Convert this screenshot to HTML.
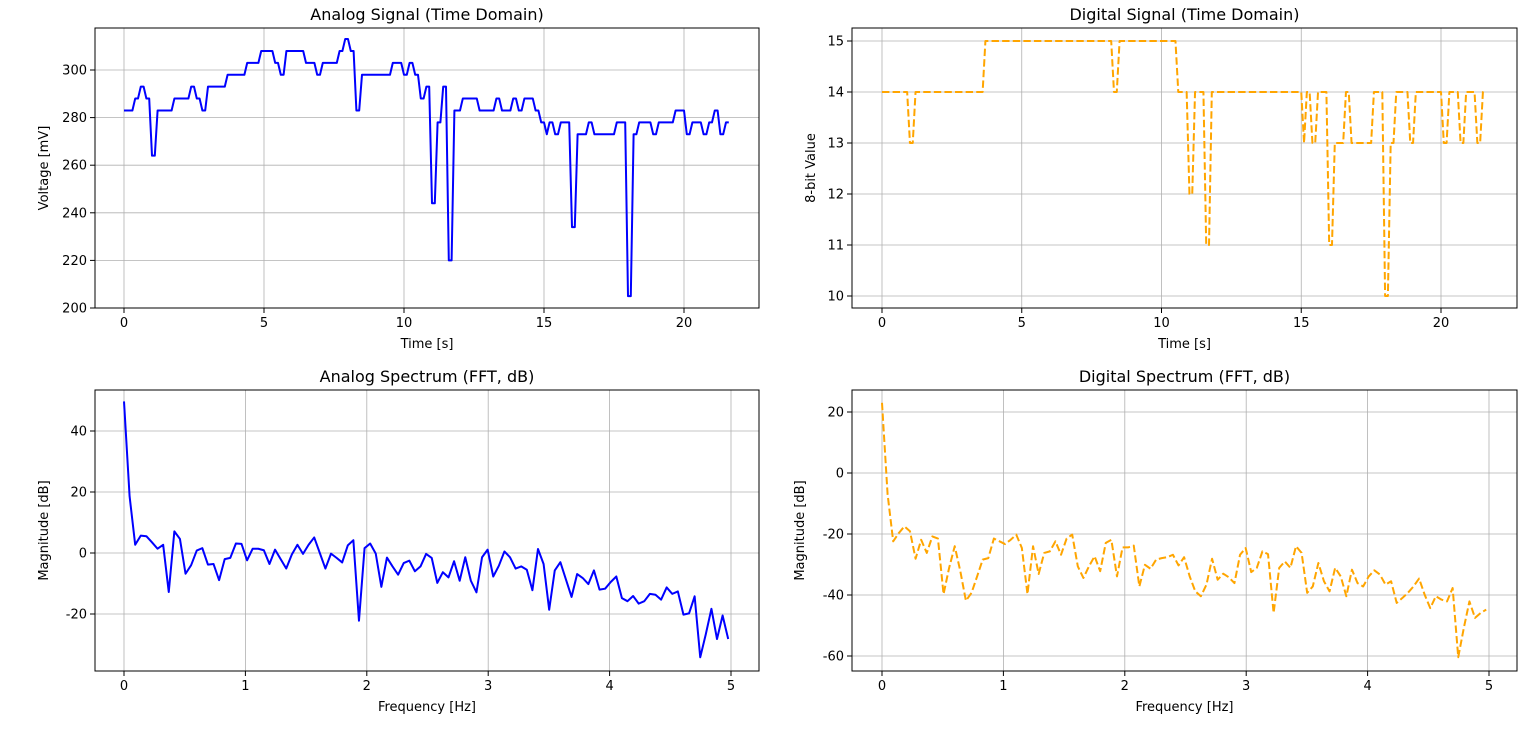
<!DOCTYPE html>
<html><head><meta charset="utf-8"><style>
html,body{margin:0;padding:0;background:#fff;}
svg{display:block;font-family:"DejaVu Sans","Liberation Sans",sans-serif;}
</style></head><body>
<svg id="fig" width="1536" height="754" viewBox="0 0 1536 754" xmlns="http://www.w3.org/2000/svg">
<rect width="1536" height="754" fill="#fff"/>
</svg>
<script>
const analogValues=[283,283,283,283,288,288,293,293,288,288,264,264,
283,283,283,283,283,283,288,288,288,288,288,288,293,293,288,288,283,283,
293,293,293,293,293,293,293,298,298,298,298,298,298,298,303,303,303,303,303,308,308,308,308,308,303,303,298,298,
308,308,308,308,308,308,308,303,303,303,303,298,298,303,303,303,303,303,303,308,308,313,313,308,308,283,283,
298,298,298,298,298,298,298,298,298,298,298,303,303,303,303,298,298,303,303,298,298,288,288,293,293,244,244,278,278,293,293,220,220,
283,283,283,288,288,288,288,288,288,283,283,283,283,283,283,288,288,283,283,283,283,288,288,283,283,288,288,288,288,283,283,278,278,273,278,278,273,273,278,278,278,278,234,234,
273,273,273,273,278,278,273,273,273,273,273,273,273,273,278,278,278,278,205,205,273,273,278,278,278,278,278,273,273,278,278,278,278,278,278,283,283,283,283,273,273,278,278,278,278,273,273,278,278,283,283,273,273,278,278];
const digitalValues=[14,14,14,14,14,14,14,14,14,14,13,13,
14,14,14,14,14,14,14,14,14,14,14,14,14,14,14,14,14,14,
14,14,14,14,14,14,14,15,15,15,15,15,15,15,15,15,15,15,15,15,15,15,15,15,15,15,15,15,
15,15,15,15,15,15,15,15,15,15,15,15,15,15,15,15,15,15,15,15,15,15,15,15,15,14,14,
15,15,15,15,15,15,15,15,15,15,15,15,15,15,15,15,15,15,15,15,15,14,14,14,14,12,12,14,14,14,14,11,11,
14,14,14,14,14,14,14,14,14,14,14,14,14,14,14,14,14,14,14,14,14,14,14,14,14,14,14,14,14,14,14,14,14,13,14,14,13,13,14,14,14,14,11,11,
13,13,13,13,14,14,13,13,13,13,13,13,13,13,14,14,14,14,10,10,13,13,14,14,14,14,14,13,13,14,14,14,14,14,14,14,14,14,14,13,13,14,14,14,14,13,13,14,14,14,14,13,13,14,14];
const sampleInterval=0.1;
const freqStep=10/217;
const analogSpectrum=[49.7,18.6,2.7,5.7,5.5,3.5,1.4,2.7,-12.8,7.1,4.6,-6.8,-4.0,0.8,1.6,-3.8,-3.6,-8.9,-2.0,-1.6,3.1,3.0,-2.4,1.4,1.4,0.9,-3.6,1.1,-2.0,-5.1,-0.5,2.7,-0.3,2.7,5.1,0,-5.1,-0.2,-1.6,-3.1,2.5,4.2,-22.2,1.6,3.1,-0.2,-11.1,-1.5,-4.4,-7.1,-3.3,-2.5,-6.0,-4.4,-0.3,-1.6,-9.8,-6.3,-8.0,-2.7,-9.1,-1.4,-9.1,-12.9,-1.4,1.1,-7.7,-4.2,0.5,-1.4,-5.1,-4.4,-5.5,-12.2,1.3,-3.6,-18.6,-5.7,-3.0,-8.7,-14.4,-6.9,-8.2,-10.2,-5.7,-12.0,-11.7,-9.5,-7.7,-14.8,-15.8,-14.1,-16.6,-15.8,-13.4,-13.7,-15.3,-11.3,-13.4,-12.6,-20.2,-19.8,-14.2,-34.2,-26.6,-18.3,-28.2,-20.5,-28.2];
const digitalSpectrum=[23,-7,-22.4,-19.7,-17.5,-19.1,-28.1,-21.9,-26.2,-20.8,-21.5,-39.7,-31.1,-24,-32.2,-41.9,-39.3,-33.9,-28.4,-27.9,-21.5,-22.4,-23.3,-21.9,-20.2,-24.6,-39.7,-24,-33.1,-26.2,-25.7,-22.4,-26.8,-21.5,-20.2,-30.6,-34.4,-30.6,-27.3,-32.2,-22.9,-21.9,-33.9,-24.4,-24.4,-23.8,-37.2,-30.1,-31.4,-28.4,-27.9,-27.6,-26.8,-30.3,-27.6,-33.9,-38.8,-40.4,-36.6,-28.1,-35,-33,-34.2,-36.1,-26.8,-24.6,-32.5,-31.1,-25.7,-26.6,-45.9,-31.1,-29,-31.1,-24,-26.2,-39.3,-37.2,-29.5,-35.5,-38.8,-31.1,-33.9,-40.4,-31.7,-36.1,-37.2,-33.9,-31.9,-33.3,-36.6,-35.5,-42.6,-41,-39.3,-37.2,-34.6,-39.9,-44.3,-40.4,-41.5,-42.1,-37.7,-60.4,-50.8,-42.1,-47.5,-45.9,-44.8];
const timeTicks=[0,5,10,15,20];
const freqTicks=[0,1,2,3,4,5];
const analogYTicks=[200,220,240,260,280,300];
const digitalYTicks=[10,11,12,13,14,15];
const analogSpecYTicks=[-20,0,20,40];
const digitalSpecYTicks=[-60,-40,-20,0,20];

const NS="http://www.w3.org/2000/svg";
const svg=document.getElementById('fig');
function mk(tag,attrs,parent){const e=document.createElementNS(NS,tag);for(const k in attrs)e.setAttribute(k,attrs[k]);(parent||svg).appendChild(e);return e;}

function panel(o){
  const g=mk('g',{});
  
  
  const sx=v=>o.x0+o.kx*(v-o.vx0);
  const sy=v=>o.y0-o.ky*(v-o.vy0);
  // grid
  o.xt.forEach(v=>{const l=mk('line',{x1:sx(v),x2:sx(v),y1:o.top,y2:o.bot,stroke:'#b0b0b0','stroke-width':0.8},g);
    });
  o.yt.forEach(v=>{const l=mk('line',{x1:o.left,x2:o.right,y1:sy(v),y2:sy(v),stroke:'#b0b0b0','stroke-width':0.8},g);
    });
  // series
  let d='';
  o.vals.forEach((v,i)=>{d+=(i?'L':'M')+sx(i*o.step).toFixed(2)+','+sy(v).toFixed(2);});
  const p=mk('path',{d:d,fill:'none',stroke:o.color,'stroke-width':2,'stroke-linejoin':'round'},g);
  if(o.dash)p.setAttribute('stroke-dasharray','7.4,3.2');
  
  
  // frame
  const f=mk('rect',{x:o.left,y:o.top,width:o.right-o.left,height:o.bot-o.top,fill:'none',stroke:'#000','stroke-width':1},g);
  
  // ticks
  o.xt.forEach(v=>{mk('line',{x1:sx(v),x2:sx(v),y1:o.bot,y2:o.bot+5,stroke:'#000','stroke-width':1},g);
    const t=mk('text',{x:sx(v),y:o.bot+19,'font-size':13,'text-anchor':'middle',fill:'#000'},g);t.textContent=v;
    });
  o.yt.forEach(v=>{mk('line',{x1:o.left-5,x2:o.left,y1:sy(v),y2:sy(v),stroke:'#000','stroke-width':1},g);
    const t=mk('text',{x:o.left-8,y:sy(v)+4.5,'font-size':13,'text-anchor':'end',fill:'#000'},g);t.textContent=v;
    });
  const ti=mk('text',{x:(o.left+o.right)/2,y:o.top-8,'font-size':16,'text-anchor':'middle',fill:'#000'},g);ti.textContent=o.title;
  
  const xl=mk('text',{x:(o.left+o.right)/2,y:o.bot+40,'font-size':13,'text-anchor':'middle',fill:'#000'},g);xl.textContent=o.xlabel;
  
  const cy=(o.top+o.bot)/2;
  const yl=mk('text',{x:o.ylx,y:cy,'font-size':13,'text-anchor':'middle',fill:'#000',transform:`rotate(-90 ${o.ylx} ${cy})`},g);yl.textContent=o.ylabel;
  
}

panel({name:'analog-time-panel',series:'analog-signal-line',left:95,right:759,top:28,bot:308,x0:124,vx0:0,kx:28,y0:308,vy0:200,ky:2.38,
  xt:timeTicks,yt:analogYTicks,vals:analogValues,step:sampleInterval,color:'#0000ff',dash:false,
  title:'Analog Signal (Time Domain)',xlabel:'Time [s]',ylabel:'Voltage [mV]',ylx:48});
panel({name:'digital-time-panel',series:'digital-signal-line',left:852,right:1517,top:28,bot:308,x0:882,vx0:0,kx:27.95,y0:296,vy0:10,ky:51,
  xt:timeTicks,yt:digitalYTicks,vals:digitalValues,step:sampleInterval,color:'#ffa500',dash:true,
  title:'Digital Signal (Time Domain)',xlabel:'Time [s]',ylabel:'8-bit Value',ylx:815});
panel({name:'analog-spectrum-panel',series:'analog-spectrum-line',left:95,right:759,top:390,bot:671,x0:124,vx0:0,kx:121.4,y0:553,vy0:0,ky:3.05,
  xt:freqTicks,yt:analogSpecYTicks,vals:analogSpectrum,step:freqStep,color:'#0000ff',dash:false,
  title:'Analog Spectrum (FFT, dB)',xlabel:'Frequency [Hz]',ylabel:'Magnitude [dB]',ylx:48});
panel({name:'digital-spectrum-panel',series:'digital-spectrum-line',left:852,right:1517,top:390,bot:671,x0:882,vx0:0,kx:121.4,y0:473,vy0:0,ky:3.05,
  xt:freqTicks,yt:digitalSpecYTicks,vals:digitalSpectrum,step:freqStep,color:'#ffa500',dash:true,
  title:'Digital Spectrum (FFT, dB)',xlabel:'Frequency [Hz]',ylabel:'Magnitude [dB]',ylx:804});
</script>
</body></html>
